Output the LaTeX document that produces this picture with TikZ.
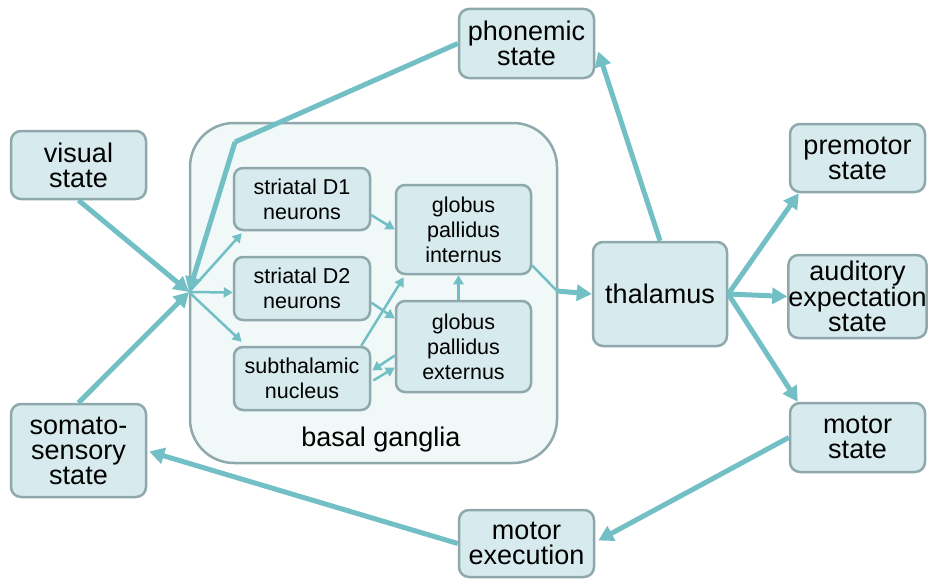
\documentclass[tikz,border=0pt]{standalone}
\usepackage{fontspec}
\setmainfont{Liberation Sans}
\usetikzlibrary{arrows.meta,calc}
\definecolor{boxfill}{HTML}{D7EBEF}
\definecolor{boxdraw}{HTML}{8EA8AB}
\definecolor{arrowc}{HTML}{72BFC6}
\definecolor{bgfill}{HTML}{F0F8F8}
\begin{document}
\begin{tikzpicture}[x=1pt,y=-1pt,
  outerbox/.style={draw=boxdraw, fill=boxfill, line width=2.5pt, rounded corners=10pt, inner sep=0pt, align=center,
    minimum width=135pt, font=\fontsize{27}{25}\selectfont},
  innerbox/.style={draw=boxdraw, fill=boxfill, line width=2.5pt, rounded corners=9pt, inner sep=0pt, align=center,
    minimum width=136pt, font=\fontsize{21.5}{25}\selectfont},
  bigarrow/.style={draw=arrowc, line width=5pt, -{Triangle[length=15pt,width=16pt]}},
  bigline/.style={draw=arrowc, line width=5pt},
  smallarrow/.style={draw=arrowc, line width=2.5pt, -{Triangle[length=9pt,width=10pt]}},
  smallline/.style={draw=arrowc, line width=2.5pt}]
\useasboundingbox (0,0) rectangle (936,578);

% basal ganglia container
\node[draw=boxdraw, fill=bgfill, line width=2.5pt, rounded corners=44pt, minimum width=367pt, minimum height=340pt] (bg) at (373.5,293) {};
\node[font=\fontsize{27}{25}\selectfont] (bglabel) at (381,440) {basal ganglia};

% outer nodes
\node[outerbox, minimum height=69pt] (phon) at (526.5,43.5) {phonemic\\state};
\node[outerbox, minimum height=68pt] (visual) at (78.5,165) {visual\\state};
\node[outerbox, minimum height=93pt] (somato) at (78.5,450.5) {somato-\\sensory\\state};
\node[outerbox, minimum width=134pt, minimum height=104pt] (thal) at (660,294) {thalamus};
\node[outerbox, minimum height=68pt] (premotor) at (857.5,158) {premotor\\state};
\node[outerbox, minimum height=83pt] (audit) at (857.5,296.5) {auditory\\expectation\\state};
\node[outerbox, minimum height=69pt] (motor) at (857.5,437.5) {motor\\state};
\node[outerbox, minimum height=67pt] (motex) at (526.5,543.5) {motor\\execution};

% inner nodes
\node[innerbox, minimum height=62pt] (d1) at (302,199) {striatal D1\\neurons};
\node[innerbox, minimum height=63pt] (d2) at (302,288.5) {striatal D2\\neurons};
\node[innerbox, minimum height=63pt] (stn) at (302,378.5) {subthalamic\\nucleus};
\node[innerbox, minimum width=135pt, minimum height=89pt] (gpi) at (463.5,229.5) {globus\\pallidus\\internus};
\node[innerbox, minimum width=135pt, minimum height=91pt] (gpe) at (463.5,346.5) {globus\\pallidus\\externus};

\coordinate (hub) at (189,292);
\coordinate (bend) at (235,142);
\coordinate (gate) at (557,291);

% inputs to basal ganglia
\draw[bigarrow] (visual.south) -- (hub);
\draw[bigarrow] (somato.north) -- (hub);
\draw[bigline] (phon.west) -- (bend);
\draw[bigarrow] (bend) -- (hub);

% hub to striatum / STN
\draw[smallarrow] (hub) -- ($(d1.south west)+(9,2)$);
\draw[smallarrow] (hub) -- ($(d2.west)+(0,4)$);
\draw[smallarrow] (hub) -- ($(stn.north west)+(9,-4)$);

% internal connections
\draw[smallarrow] ($(d1.east)+(0,16)$) -- (gpi.west);
\draw[smallarrow] ($(d2.east)+(0,14)$) -- ($(gpe.west)+(0,-28)$);
\draw[smallarrow] ($(stn.north east)+(-10,0)$) -- ($(gpi.south west)+(9,2)$);
\draw[smallarrow] ($(gpe.west)+(0,9)$) -- ($(stn.east)+(1,-8)$);
\draw[smallarrow] ($(stn.east)+(2,2)$) -- ($(gpe.west)+(0,21)$);
\draw[smallarrow] ($(gpe.north)+(-5,0)$) -- ($(gpi.south)+(-5,0)$);

% output to thalamus
\draw[smallline] ($(gpi.east)+(0,36)$) -- (gate);
\draw[bigarrow] (gate) -- (thal.west);

% thalamus outputs
\draw[bigarrow] (thal.north) -- ($(phon.east)+(3,8)$);
\draw[bigarrow] (thal.east) -- ($(premotor.south west)+(10,0)$);
\draw[bigarrow] (thal.east) -- (audit.west);
\draw[bigarrow] (thal.east) -- ($(motor.north west)+(9,0)$);

% motor loop
\draw[bigarrow] (motor.west) -- ($(motex.east)+(3,-3)$);
\draw[bigarrow] (motex.west) -- ($(somato.east)+(2,1)$);
\end{tikzpicture}
\end{document}
